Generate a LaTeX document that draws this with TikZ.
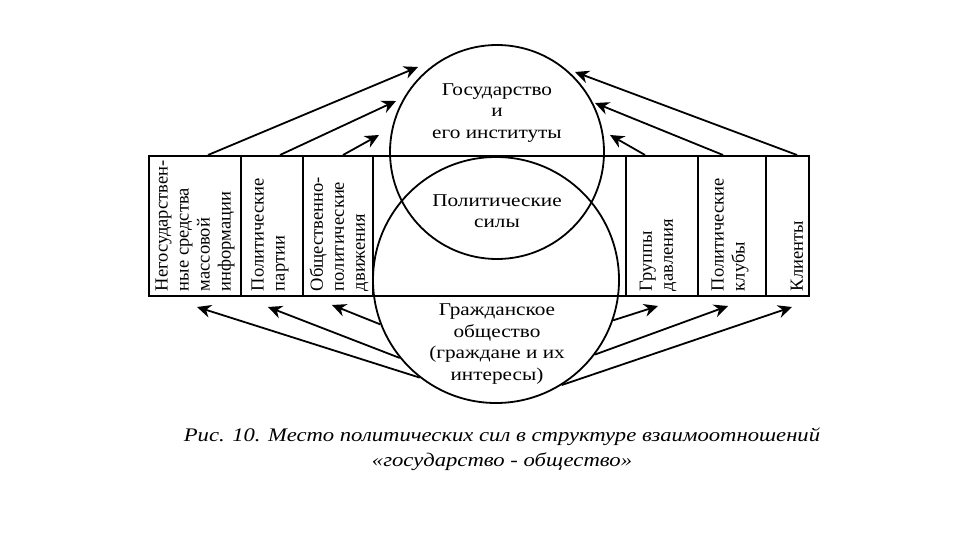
\documentclass[tikz,border=0pt]{standalone}
\usepackage{fontspec}
\setmainfont{Liberation Serif}
\newfontfamily\widefont[FakeStretch=1.18]{Liberation Serif}
\usetikzlibrary{arrows.meta}
\begin{document}
\begin{tikzpicture}[x=1pt,y=-1pt,line width=1.8pt,
  box/.style={draw,rectangle,inner sep=0pt,anchor=north west,minimum height=140pt},
  vtext/.style={rotate=90,anchor=west,inner sep=0pt,align=left,font=\fontsize{18.5}{21}\selectfont},
  htext/.style={align=center,inner sep=0pt,font=\widefont\fontsize{18}{21.5}\selectfont},
  ring/.style={draw,circle,inner sep=0pt},
  arr/.style={-{Stealth[length=14pt,width=13pt]}},
  captext/.style={align=center,inner sep=0pt,font=\widefont\itshape\fontsize{19.2}{25}\selectfont}]
\useasboundingbox[fill=white] (0,0) rectangle (960,540);
% band of boxes
\node[box,minimum width=92pt] (b1) at (148,155) {};
\node[box,minimum width=62pt] (b2) at (240,155) {};
\node[box,minimum width=70pt] (b3) at (302,155) {};
\node[box,minimum width=253pt] (b4) at (372,155) {};
\node[box,minimum width=72pt] (b5) at (625,155) {};
\node[box,minimum width=68pt] (b6) at (697,155) {};
\node[box,minimum width=43pt] (b7) at (765,155) {};
% circles
\node[ring,minimum size=214pt] (state) at (497,152) {};
\node[ring,minimum size=246pt] (civil) at (496,280) {};
% circle texts
\node[htext] (tstate) at (497,113) {Государство\\и\\его институты};
\node[htext] (tforces) at (497,211) {Политические\\силы};
\node[htext] (tcivil) at (497,344) {Гражданское\\общество\\(граждане и их\\интересы)};
% vertical texts
\node[vtext] (l1) at (195,292) {Негосударствен-\\ные средства\\массовой\\информации};
\node[vtext] (l2) at (270,292) {Политические\\партии};
\node[vtext] (l3) at (339,292) {Общественно-\\политические\\движения};
\node[vtext] (r1) at (658,292) {Группы\\давления};
\node[vtext] (r2) at (730,292) {Политические\\клубы};
\node[vtext] (r3) at (797,292) {Клиенты};
% arrow ends
\coordinate (tl1s) at (208,155); \coordinate (tl1e) at (418,67);
\coordinate (tl2s) at (280,155); \coordinate (tl2e) at (396,101);
\coordinate (tl3s) at (343,155); \coordinate (tl3e) at (379,135);
\coordinate (tr1s) at (797,155); \coordinate (tr1e) at (575,72);
\coordinate (tr2s) at (723,155); \coordinate (tr2e) at (595,103);
\coordinate (tr3s) at (645,155); \coordinate (tr3e) at (610,135);
\coordinate (bl1e) at (197,307);
\coordinate (bl2e) at (268,307);
\coordinate (bl3e) at (332,305);
\coordinate (br1e) at (658,306);
\coordinate (br2e) at (728,306);
\coordinate (br3e) at (792,307);
% arrows to the state
\draw[arr] (tl1s) -- (tl1e);
\draw[arr] (tl2s) -- (tl2e);
\draw[arr] (tl3s) -- (tl3e);
\draw[arr] (tr1s) -- (tr1e);
\draw[arr] (tr2s) -- (tr2e);
\draw[arr] (tr3s) -- (tr3e);
% arrows from civil society
\draw[arr] (civil.232) -- (bl1e);
\draw[arr] (civil.219) -- (bl2e);
\draw[arr] (civil.201) -- (bl3e);
\draw[arr] (civil.341) -- (br1e);
\draw[arr] (civil.323) -- (br2e);
\draw[arr] (civil.302) -- (br3e);
% caption
\node[captext] (cap) at (502,449) {Рис. 10. Место политических сил в структуре взаимоотношений\\«государство - общество»};
\end{tikzpicture}
\end{document}
